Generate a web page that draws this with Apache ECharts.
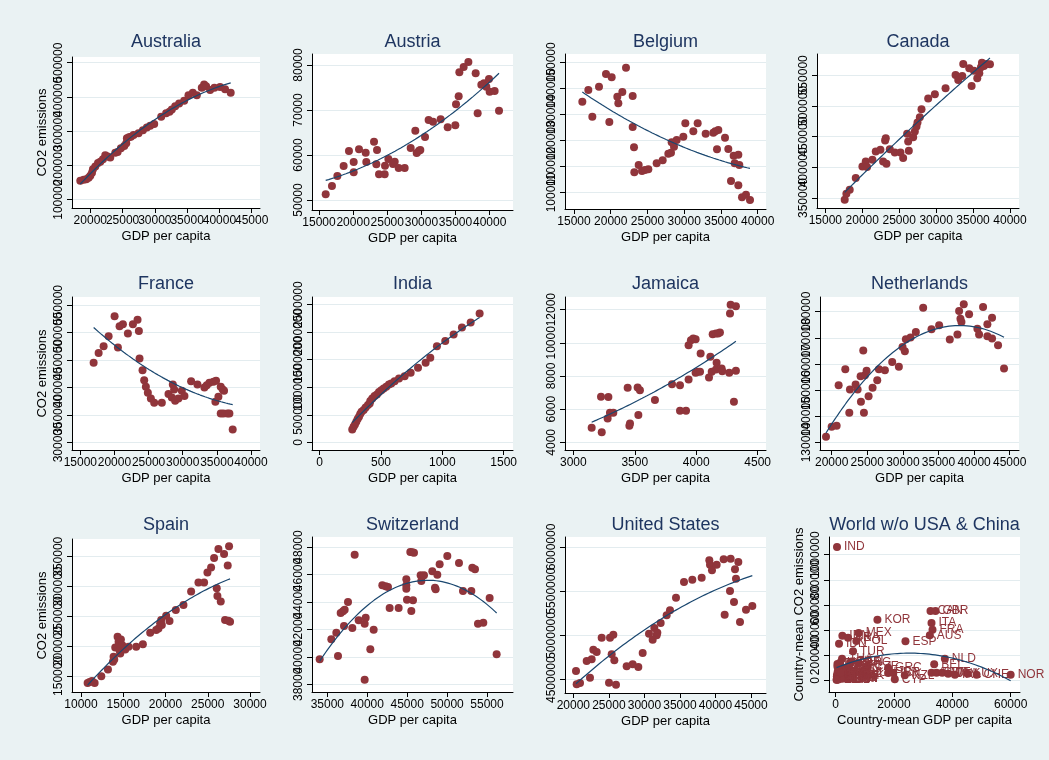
<!DOCTYPE html>
<html>
<head>
<meta charset="utf-8">
<script src="https://cdn.jsdelivr.net/npm/echarts@6/dist/echarts.min.js"></script>
<style>
  html, body { margin: 0; padding: 0; background: #EAF2F3; }
  #chart { width: 1049px; height: 760px; }
</style>
</head>
<body>
<div id="chart"></div>
<script>
// ---- country series: GDP per capita vs CO2 emissions ----
const ausGdp = [18450,18970,19380,19740,20000,20260,20410,20770,21190,21550,21960,22320,22680,23090,23870,24230,24740,25260,25570,25670,25980,26290,26700,27470,28150,28760,29280,29900,30980,31750,32270,32630,33150,33760,34540,35210,35880,36500,37270,37630,37940,38560,39230,40100,40880,41750];
const ausCo2 = [155000,158000,160000,164000,170000,179000,189000,197000,207000,211000,218000,230000,226000,223000,237000,239000,250000,257000,265000,279000,282000,284000,289000,294000,303000,311000,316000,321000,342000,352000,357000,363000,373000,381000,389000,405000,412000,405000,427000,436000,431000,420000,427000,429000,422000,412000];

const autGdp = [15980,16900,17690,18610,19390,20080,20080,20860,21840,21930,23060,23400,23500,23790,24620,24670,25160,25840,26090,26670,27550,28430,29110,29310,29650,29840,30530,31060,31700,32820,33850,34970,35070,35460,35560,36190,36880,37950,38240,38780,39170,39510,39900,40000,40730,41370];
const autCo2 = [51260,53110,55330,57560,60890,58440,56150,61260,60520,58440,62960,57930,61110,55700,55700,57630,59110,58000,58520,57110,57110,61560,65410,60440,60960,61110,64000,67780,67410,67930,66150,66590,71260,73040,78370,79550,80670,78150,69260,75630,75930,75190,76890,74070,74220,69850];

const belGdp = [16134,16951,17495,18403,19356,19809,20127,20898,21034,21579,22078,22985,22985,23167,23212,23802,24255,24664,25118,26252,27069,27840,28203,28294,28612,28975,29882,30154,31243,31833,32921,33965,34237,34645,34464,35553,36006,36732,36868,36369,37368,37504,37368,37867,38411,38955];
const belCo2 = [134870,139360,129100,140640,145510,127050,144230,136790,134230,138590,147950,137050,125130,117310,107690,110510,108200,108590,108850,111150,112310,114870,115260,119230,117560,120130,121410,126540,123460,126540,122560,122950,123460,123970,116540,121020,116670,114100,111150,104360,114490,110510,102690,98080,99100,97050];

const canGdp = [17622,17848,18300,19114,20018,20470,20651,21374,21826,22459,22821,23093,23183,23274,23726,24404,25173,25535,26077,26213,26303,26891,27117,27343,27478,27795,28021,28925,29829,31276,32632,32994,33536,33672,34486,34803,35119,35571,35842,36068,36204,36475,36837,37289];
const canCo2 = [347290,357050,363550,382520,401490,409620,400410,412330,425880,428590,409620,443770,447560,405830,429670,424250,424250,415040,454610,442140,426960,449190,458400,466530,473030,481700,494710,512060,519100,528860,550540,542410,548910,568430,561380,532650,557590,545120,553250,563010,570600,565180,568430,567890];

const fraGdp = [16949,17680,18411,19142,20019,20506,20750,21237,21968,22699,23382,23577,23674,24113,24356,24600,24892,25331,25818,26939,27913,28401,28547,28742,28888,29375,29863,30252,31227,32153,33176,33517,33907,34492,34882,34784,35223,35564,35856,36051,35564,35954,36539,36831,37318];
const fraCo2 = [444670,462830,474930,493090,529410,472510,511250,514880,497930,514880,523350,502770,452540,431350,413190,401080,390190,379900,372030,372030,387770,381710,405320,396240,375660,379900,393820,384140,411380,405320,399870,404110,408340,410160,411980,373850,382920,401080,396240,393820,352660,352660,352660,352660,323610];

const indGdp = [266,277,288,299,310,321,331,342,359,375,394,408,413,429,448,467,484,503,522,543,565,584,611,647,693,742,802,864,902,956,1024,1092,1160,1231,1304];
const indCo2 = [235520,283830,326110,374420,422730,465000,513320,555590,585780,634100,676370,706560,748840,797150,839430,869620,911890,948120,978320,1008500,1050800,1068900,1111200,1159500,1201800,1262200,1352700,1443300,1533900,1745300,1841900,1956700,2083500,2174000,2337100];

const jamGdp = [3149,3225,3231,3279,3285,3298,3325,3442,3456,3461,3523,3529,3542,3664,3803,3868,3868,3917,3938,3938,3957,3976,3995,3995,4012,4036,4031,4104,4115,4126,4134,4161,4161,4166,4178,4193,4207,4212,4269,4275,4280,4323,4323,4307];
const jamCo2 = [4882,6747,4602,5444,6727,5784,5784,7288,5003,5143,7308,5644,7148,6546,7509,7449,5905,5905,7789,9855,10155,10256,10216,8190,8251,9353,8251,7910,9153,8251,10516,10556,8391,8792,10556,10616,8451,8291,8190,11760,12300,12200,8311,6446];

const nldGdp = [19206,20000,20701,20981,21916,22477,22570,23365,23645,24066,24112,24439,24533,24673,24907,25187,25748,26402,26636,27477,28505,29439,29953,30280,30421,31075,31823,32851,34019,35094,36589,37664,37897,38084,38224,38551,39299,40467,40701,41262,41869,41869,42523,42523,43365,44206];
const nldCo2 = [132160,135980,136360,151880,157980,141320,150220,152130,150220,155310,145520,165110,141320,155690,157350,147680,150860,153790,157980,157600,160780,158870,166510,164850,169430,170070,172230,181520,173250,174770,169300,171210,180240,177320,176050,182790,178970,173500,171210,181770,175160,170580,177700,169690,167140,158240];

const espGdp = [10787,11024,11299,11614,12402,13189,13780,13858,13937,14055,14331,14449,14567,14646,14724,14882,15236,15630,16535,17323,18189,18898,19173,19370,19488,19567,20079,20473,21220,22126,23031,23898,24567,24961,25394,25748,26260,26929,27362,27520,26063,26142,26535,27047,27638,27441];
const espCo2 = [138200,139890,141570,138200,149440,160670,173600,182020,177530,197750,215730,207300,193260,187640,211230,201690,194380,198880,198880,203370,222470,226970,229770,238200,243820,235390,251120,242140,260670,269100,291570,306740,306740,323600,332020,347750,362920,354490,335390,367410,297190,284270,274720,243820,241010,242700];

const cheGdp = [34040,35501,36127,36336,36670,36962,37171,37088,37589,38424,38131,38925,39676,39802,39676,40386,40803,41889,42306,42598,42807,43934,44895,44895,44895,44978,45396,45646,45521,45730,45855,46690,46773,47107,48151,48485,48569,48777,49069,50029,51490,51991,53035,53160,53494,53870,54538,55332,56208];
const cheCo2 = [39820,41276,41762,40063,43194,43315,43437,42247,43995,47441,42102,42660,42417,42854,38340,40548,41980,45208,45135,45087,43558,43558,45645,45208,44966,44165,47635,47611,43339,44116,47587,45936,45524,45936,46228,45038,44917,45985,46737,47344,46834,44796,44796,46495,46373,42417,42490,44286,40184];

const usaGdp = [20375,20469,20938,21876,22345,22580,22814,23283,23987,25018,25159,25394,25628,25769,26003,27504,28348,29146,29755,30646,31162,31397,31725,31819,32288,33132,33601,34445,35571,36743,38057,39135,39229,39511,40167,41152,41293,42043,42137,42606,42747,42887,43216,43450,44294,45185];
const usaCo2 = [4598000,4447000,4462000,4711000,4523000,4730000,4839000,4813000,4975000,4466000,4975000,4786000,5009000,4719000,4443000,4651000,4673000,4643000,4802000,5020000,4952000,5084000,5001000,5031000,5141000,5227000,5284000,5427000,5604000,5631000,5653000,5849000,5800000,5736000,5800000,5861000,5235000,5503000,5868000,5378000,5748000,5642000,5830000,5152000,5291000,5333000];

// country means, world without USA and China
const worldCodes = ['IND','KOR','CAN','GBR','ITA','FRA','AUS','ESP','MEX','IRN','BRA','POL','IDN','TUR','THA','NLD','BEL','GRC','PRT','ISR','AUT','SWE','FIN','DNK','IRL','LUX','CHE','NOR','NZL','CYP',
  'ARG','EGY','PAK','PHL','VNM','COL','VEN','CHL','PER','MYS','HUN','CZE','ROU','BGD','NGA','DZA','MAR','TUN','JAM',
  'ZAF','UKR','BGR','SVK','PRK','IRQ','SYR','LKA','KEN','CUB','ECU','BOL','DOM','BLR','UZB','GHA'];
const worldGdp = [458,14313,32518,34235,32860,33200,32290,23930,7900,2290,4240,7100,1145,5950,2180,37440,33780,17980,17980,19700,32860,34580,36530,38590,40880,45230,48320,60000,23700,20270,
  7800,1500,600,1200,700,2800,5500,5200,2400,4300,9500,11000,3800,400,450,2100,1800,2900,3900,
  5100,1500,2500,6000,1000,1800,1300,600,400,2000,1300,900,2200,1800,600,300];
const worldCo2 = [1061000,482800,551700,551700,456200,403200,358100,310300,376700,355400,339500,313000,291800,230800,172400,172400,127300,100800,58000,58000,61000,61000,61000,53000,45100,53000,45100,45100,39800,8000,
  140000,120000,130000,60000,70000,55000,150000,50000,40000,90000,60000,110000,100000,30000,45000,80000,35000,20000,10000,
  145000,140000,40000,35000,80000,60000,30000,8000,5000,25000,15000,7000,12000,60000,110000,4000];

// axis tick values for each panel
const ausXTicks = [20000,25000,30000,35000,40000,45000], ausYTicks = [100000,200000,300000,400000,500000];
const autXTicks = [15000,20000,25000,30000,35000,40000], autYTicks = [50000,60000,70000,80000];
const belXTicks = [15000,20000,25000,30000,35000,40000], belYTicks = [100000,110000,120000,130000,140000,150000];
const canXTicks = [15000,20000,25000,30000,35000,40000], canYTicks = [350000,400000,450000,500000,550000];
const fraXTicks = [15000,20000,25000,30000,35000,40000], fraYTicks = [300000,350000,400000,450000,500000,550000];
const indXTicks = [0,500,1000,1500], indYTicks = [0,500000,1000000,1500000,2000000,2500000];
const jamXTicks = [3000,3500,4000,4500], jamYTicks = [4000,6000,8000,10000,12000];
const nldXTicks = [20000,25000,30000,35000,40000,45000], nldYTicks = [130000,140000,150000,160000,170000,180000];
const espXTicks = [10000,15000,20000,25000,30000], espYTicks = [150000,200000,250000,300000,350000];
const cheXTicks = [35000,40000,45000,50000,55000], cheYTicks = [38000,40000,42000,44000,46000,48000];
const usaXTicks = [20000,25000,30000,35000,40000,45000], usaYTicks = [4500000,5000000,5500000,6000000];
const wldXTicks = [0,20000,40000,60000], wldYTicks = [0,200000,400000,600000,800000,1000000];

// ---- panel layout: plot box [left, top, right, bottom] in px and axis extents ----
const panels = [
  { title: 'Australia', x: ausGdp, y: ausCo2, xt: ausXTicks, yt: ausYTicks, box: [72, 57, 260, 208], xr: [17165, 46289], yr: [75787, 516465], yName: 'CO2 emissions', titleY: 42 },
  { title: 'Austria', x: autGdp, y: autCo2, xt: autXTicks, yt: autYTicks, box: [312, 54, 513, 210], xr: [13975, 43418], yr: [47778, 82444], titleY: 42 },
  { title: 'Belgium', x: belGdp, y: belCo2, xt: belXTicks, yt: belYTicks, box: [565, 54, 766, 209], xr: [13775, 41134], yr: [93590, 153205], titleY: 42 },
  { title: 'Canada', x: canGdp, y: canCo2, xt: canXTicks, yt: canYTicks, box: [817, 54, 1019, 208], xr: [13870, 41221], yr: [333740, 584688], titleY: 42 },
  { title: 'France', x: fraGdp, y: fraCo2, xt: fraXTicks, yt: fraYTicks, box: [72, 297, 260, 450], xr: [13782, 41316], yr: [286078, 564527], yName: 'CO2 emissions', titleY: 284 },
  { title: 'India', x: indGdp, y: indCo2, xt: indXTicks, yt: indYTicks, box: [312, 297, 513, 450], xr: [-62, 1576], yr: [-138897, 2638897], titleY: 284 },
  { title: 'Jamaica', x: jamGdp, y: jamCo2, xt: jamXTicks, yt: jamYTicks, box: [565, 297, 766, 450], xr: [2932, 4568], yr: [3539, 12762], titleY: 284 },
  { title: 'Netherlands', x: nldGdp, y: nldCo2, xt: nldXTicks, yt: nldYTicks, box: [820, 297, 1019, 450], xr: [18364, 46308], yr: [127074, 185597], titleY: 284 },
  { title: 'Spain', x: espGdp, y: espCo2, xt: espXTicks, yt: espYTicks, box: [72, 539, 260, 692], xr: [8937, 31181], yr: [123034, 379775], yName: 'CO2 emissions', titleY: 525 },
  { title: 'Switzerland', x: cheGdp, y: cheCo2, xt: cheXTicks, yt: cheYTicks, box: [312, 537, 513, 692], xr: [33080, 58257], yr: [37442, 48728], titleY: 525 },
  { title: 'United States', x: usaGdp, y: usaCo2, xt: usaXTicks, yt: usaYTicks, box: [565, 537, 766, 693], xr: [18827, 47110], yr: [4349240, 6113070], titleY: 525 },
  { title: 'World w/o USA & China', x: worldGdp, y: worldCo2, xt: wldXTicks, yt: wldYTicks, box: [829, 537, 1020, 692], xr: [-2290, 63206], yr: [-92838, 1140582], titleY: 525,
    labels: worldCodes, xName: 'Country-mean GDP per capita', yName: 'Country-mean CO2 emissions' }
];

const FONT = '"Liberation Sans", Arial, Helvetica, sans-serif';
const MAROON = '#90353B';
const NAVY = '#1A476F';
const GRIDLINE = '#E3ECEF';
const INK = '#000000';
const LABEL_GAP = 7;

// quadratic least-squares fit, evaluated across the observed x range
function qfit(xs, ys, steps) {
  const n = xs.length;
  const mx = xs.reduce((a, b) => a + b, 0) / n;
  const sd = Math.sqrt(xs.reduce((a, b) => a + (b - mx) * (b - mx), 0) / n) || 1;
  const S = [0, 0, 0, 0, 0], T = [0, 0, 0];
  for (let i = 0; i < n; i++) {
    const t = (xs[i] - mx) / sd;
    let p = 1;
    for (let k = 0; k < 5; k++) { S[k] += p; if (k < 3) T[k] += p * ys[i]; p *= t; }
  }
  const A = [[S[0], S[1], S[2], T[0]], [S[1], S[2], S[3], T[1]], [S[2], S[3], S[4], T[2]]];
  for (let c = 0; c < 3; c++) {
    let piv = c;
    for (let r = c + 1; r < 3; r++) if (Math.abs(A[r][c]) > Math.abs(A[piv][c])) piv = r;
    [A[c], A[piv]] = [A[piv], A[c]];
    for (let r = 0; r < 3; r++) {
      if (r === c) continue;
      const f = A[r][c] / A[c][c];
      for (let k = c; k < 4; k++) A[r][k] -= f * A[c][k];
    }
  }
  const b = [A[0][3] / A[0][0], A[1][3] / A[1][1], A[2][3] / A[2][2]];
  const lo = Math.min(...xs), hi = Math.max(...xs);
  const out = [];
  for (let i = 0; i <= steps; i++) {
    const x = lo + (hi - lo) * i / steps;
    const t = (x - mx) / sd;
    out.push([x, b[0] + b[1] * t + b[2] * t * t]);
  }
  return out;
}

const grids = [], xAxes = [], yAxes = [], series = [], titles = [];

panels.forEach((p, i) => {
  const [l, t, r, b] = p.box;
  grids.push({ left: l, top: t, width: r - l, height: b - t, show: true, backgroundColor: '#ffffff', borderWidth: 0, outerBoundsMode: 'none' });

  xAxes.push({
    type: 'value', gridIndex: i, min: p.xr[0], max: p.xr[1],
    axisLine: { show: true, onZero: false, lineStyle: { color: INK, width: 1 } },
    axisTick: { show: true, length: 5, customValues: p.xt, lineStyle: { color: INK, width: 1 } },
    axisLabel: { show: false },
    splitLine: { show: false },
    name: p.xName || 'GDP per capita', nameLocation: 'middle', nameGap: 22,
    nameTextStyle: { color: INK, fontSize: 13, fontFamily: FONT }
  });

  yAxes.push({
    type: 'value', gridIndex: i, min: p.yr[0], max: p.yr[1],
    axisLine: { show: true, onZero: false, lineStyle: { color: INK, width: 1 } },
    axisTick: { show: true, length: 5, customValues: p.yt, lineStyle: { color: INK, width: 1 } },
    axisLabel: { show: false },
    splitLine: { show: true, lineStyle: { color: GRIDLINE, width: 1 } },
    name: p.yName || '', nameLocation: 'middle', nameGap: 23,
    nameTextStyle: { color: INK, fontSize: 13, fontFamily: FONT }
  });

  const pts = p.x.map((v, k) => p.labels ? { value: [v, p.y[k]], name: p.labels[k] } : [v, p.y[k]]);
  series.push({
    type: 'scatter', xAxisIndex: i, yAxisIndex: i, data: pts,
    symbol: 'circle', symbolSize: 8, itemStyle: { color: MAROON, opacity: 1 },
    label: p.labels ? { show: true, position: 'right', distance: 3, formatter: d => d.name, color: MAROON, fontSize: 12, fontFamily: FONT } : { show: false },
    labelLayout: p.labels ? { hideOverlap: false } : undefined,
    emphasis: { disabled: true }, silent: true, z: 2
  });
  series.push({
    type: 'line', xAxisIndex: i, yAxisIndex: i, data: qfit(p.x, p.y, 120),
    showSymbol: false, symbol: 'none', smooth: false, clip: true,
    lineStyle: { color: NAVY, width: 1.2 }, emphasis: { disabled: true }, silent: true, z: 3
  });

  titles.push({
    type: 'text', x: (l + r) / 2, y: p.titleY,
    style: { text: p.title, fill: '#1E3560', fontSize: 18, fontFamily: FONT, align: 'center', verticalAlign: 'middle' }
  });
});

const chart = echarts.init(document.getElementById('chart'), null, { renderer: 'canvas' });
chart.setOption({
  backgroundColor: '#EAF2F3',
  animation: false,
  grid: grids,
  xAxis: xAxes,
  yAxis: yAxes,
  series: series
});

// Tick labels are placed through each axis' own scale; every label is kept,
// even where neighbouring numbers run into each other.
const tickLabels = [];
panels.forEach((p, i) => {
  const axisY = chart.convertToPixel({ yAxisIndex: i }, p.yr[0]);
  const axisX = chart.convertToPixel({ xAxisIndex: i }, p.xr[0]);
  p.xt.forEach(v => {
    tickLabels.push({
      type: 'text', silent: true, x: chart.convertToPixel({ xAxisIndex: i }, v), y: axisY + LABEL_GAP,
      style: { text: String(v), fill: INK, fontSize: 12, fontFamily: FONT, align: 'center', verticalAlign: 'top' }
    });
  });
  p.yt.forEach(v => {
    tickLabels.push({
      type: 'text', silent: true, x: axisX - LABEL_GAP, y: chart.convertToPixel({ yAxisIndex: i }, v), rotation: Math.PI / 2,
      style: { text: String(v), fill: INK, fontSize: 12, fontFamily: FONT, align: 'center', verticalAlign: 'bottom' }
    });
  });
});

chart.setOption({ graphic: titles.concat(tickLabels) });
</script>
</body>
</html>
